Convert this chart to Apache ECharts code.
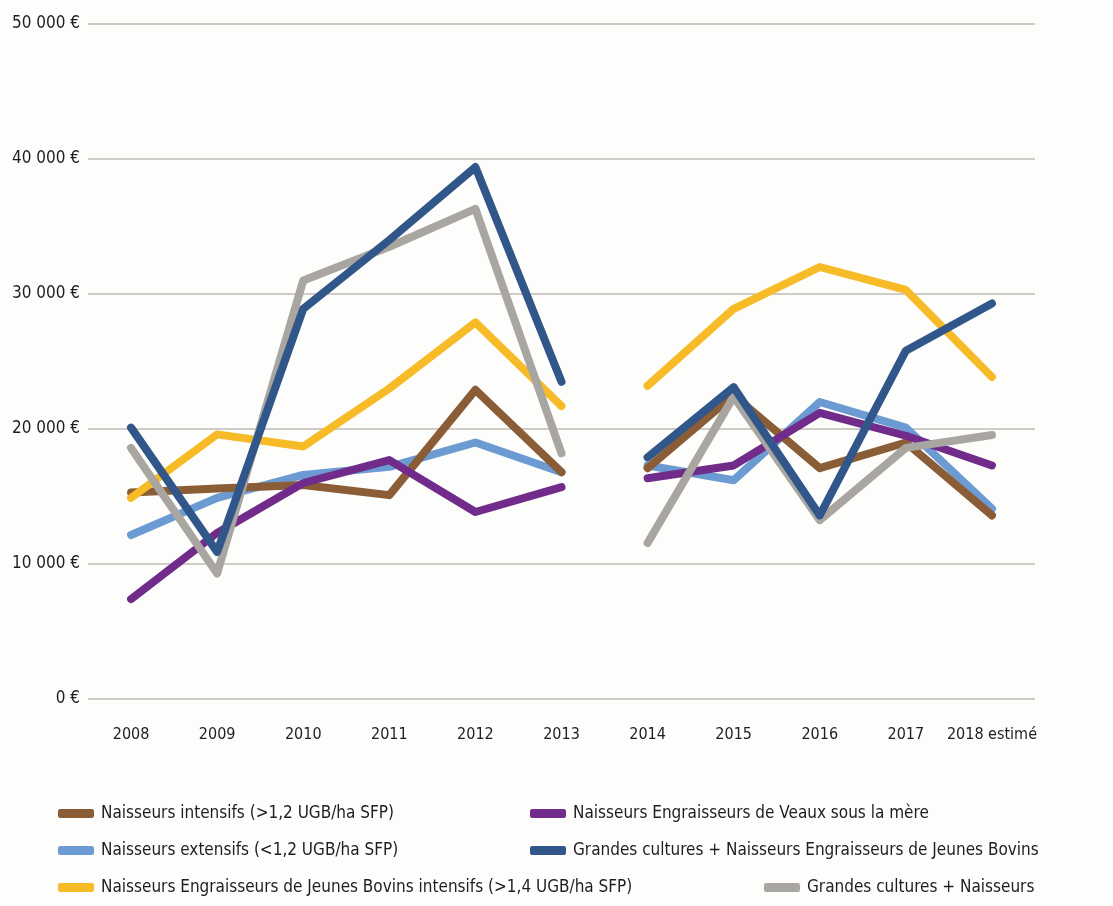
<!DOCTYPE html>
<html>
<head>
<meta charset="utf-8">
<script src="https://cdn.jsdelivr.net/npm/echarts@6/dist/echarts.min.js"></script>
<style>
  html, body { margin: 0; padding: 0; background: #fdfdfc; }
  #chart { width: 1113px; height: 906px; }
</style>
</head>
<body>
<div id="chart"></div>
<script>
// categories
const years = ['2008', '2009', '2010', '2011', '2012', '2013', '2014', '2015', '2016', '2017', '2018 estimé']
const yTicks = [0, 10000, 20000, 30000, 40000, 50000]

// series values (2008 -> 2018)
const naisseursIntensifs = [15300, 15600, 15850, 15100, 22900, 16800, 17100, 22500, 17100, 19000, 13600]
const naisseursExtensifs = [12150, 14900, 16600, 17200, 19000, 16800, 17300, 16200, 22000, 20100, 14100]
const neJbIntensifs = [14900, 19600, 18700, 23000, 27900, 21700, 23200, 28900, 32000, 30300, 23850]
const neVeaux = [7400, 12300, 16000, 17700, 13850, 15700, 16350, 17300, 21200, 19500, 17300]
const gcNeJb = [20100, 10900, 28900, 34000, 39400, 23500, 17900, 23100, 13600, 25800, 29300]
const gcNaisseurs = [18600, 9300, 31000, 33500, 36300, 18200, 11550, 22400, 13250, 18600, 19550]

const seriesDefs = [
  { name: 'Naisseurs extensifs (<1,2 UGB/ha SFP)', color: '#6b9bd2', data: naisseursExtensifs },
  { name: 'Naisseurs intensifs (>1,2 UGB/ha SFP)', color: '#8a5d36', data: naisseursIntensifs },
  { name: 'Naisseurs Engraisseurs de Jeunes Bovins intensifs (>1,4 UGB/ha SFP)', color: '#f6bb26', data: neJbIntensifs },
  { name: 'Naisseurs Engraisseurs de Veaux sous la mère', color: '#712b8b', data: neVeaux },
  { name: 'Grandes cultures + Naisseurs', color: '#a9a5a1', data: gcNaisseurs },
  { name: 'Grandes cultures + Naisseurs Engraisseurs de Jeunes Bovins', color: '#30568a', data: gcNeJb }
]

const font = "'Liberation Sans Narrow', 'DejaVu Sans Condensed', 'Roboto', sans-serif"

// the data is broken between 2013 and 2014: two pieces per group, same name
const series = []
seriesDefs.forEach((s) => {
  const first = s.data.map((v, i) => (i <= 5 ? v : null))
  const second = s.data.map((v, i) => (i >= 6 ? v : null))
  ;[first, second].forEach((d) => {
    series.push({
      name: s.name,
      type: 'line',
      data: d,
      symbol: 'none',
      connectNulls: false,
      itemStyle: { color: s.color },
      lineStyle: { color: s.color, width: 8, cap: 'round', join: 'round' }
    })
  })
})

// one legend per item, placed like the original two-column layout
const legendPos = [
  { name: 'Naisseurs intensifs (>1,2 UGB/ha SFP)', left: 58, top: 805 },
  { name: 'Naisseurs extensifs (<1,2 UGB/ha SFP)', left: 58, top: 842 },
  { name: 'Naisseurs Engraisseurs de Jeunes Bovins intensifs (>1,4 UGB/ha SFP)', left: 58, top: 879 },
  { name: 'Naisseurs Engraisseurs de Veaux sous la mère', left: 530, top: 805 },
  { name: 'Grandes cultures + Naisseurs Engraisseurs de Jeunes Bovins', left: 530, top: 842 },
  { name: 'Grandes cultures + Naisseurs', left: 764, top: 879 }
]

const legends = legendPos.map((l) => ({
  data: [l.name],
  left: l.left,
  top: l.top,
  icon: 'roundRect',
  itemWidth: 36,
  itemHeight: 9,
  itemGap: 0,
  padding: 0,
  textStyle: { fontFamily: font, fontSize: 17, color: '#1e1e1e', padding: [0, 0, 0, 2] }
}))

const chart = echarts.init(document.getElementById('chart'))
chart.setOption({
  backgroundColor: '#fdfdfc',
  animation: false,
  legend: legends,
  grid: { left: 88, right: 78, top: 24, bottom: 207, containLabel: false },
  xAxis: {
    type: 'category',
    data: years,
    boundaryGap: true,
    axisLine: { show: false },
    axisTick: { show: false },
    axisLabel: { interval: 0, color: '#1e1e1e', fontFamily: font, fontSize: 16, margin: 28 }
  },
  yAxis: {
    type: 'value',
    min: yTicks[0],
    max: yTicks[yTicks.length - 1],
    interval: 10000,
    axisLine: { show: false },
    axisTick: { show: false },
    axisLabel: {
      color: '#1e1e1e',
      fontFamily: font,
      fontSize: 17,
      margin: 8,
      formatter: (v) => String(v).replace(/\B(?=(\d{3})+(?!\d))/g, ' ') + ' €'
    },
    splitLine: { lineStyle: { color: '#cfcbc7', width: 2 } }
  },
  series: series
})
</script>
</body>
</html>
